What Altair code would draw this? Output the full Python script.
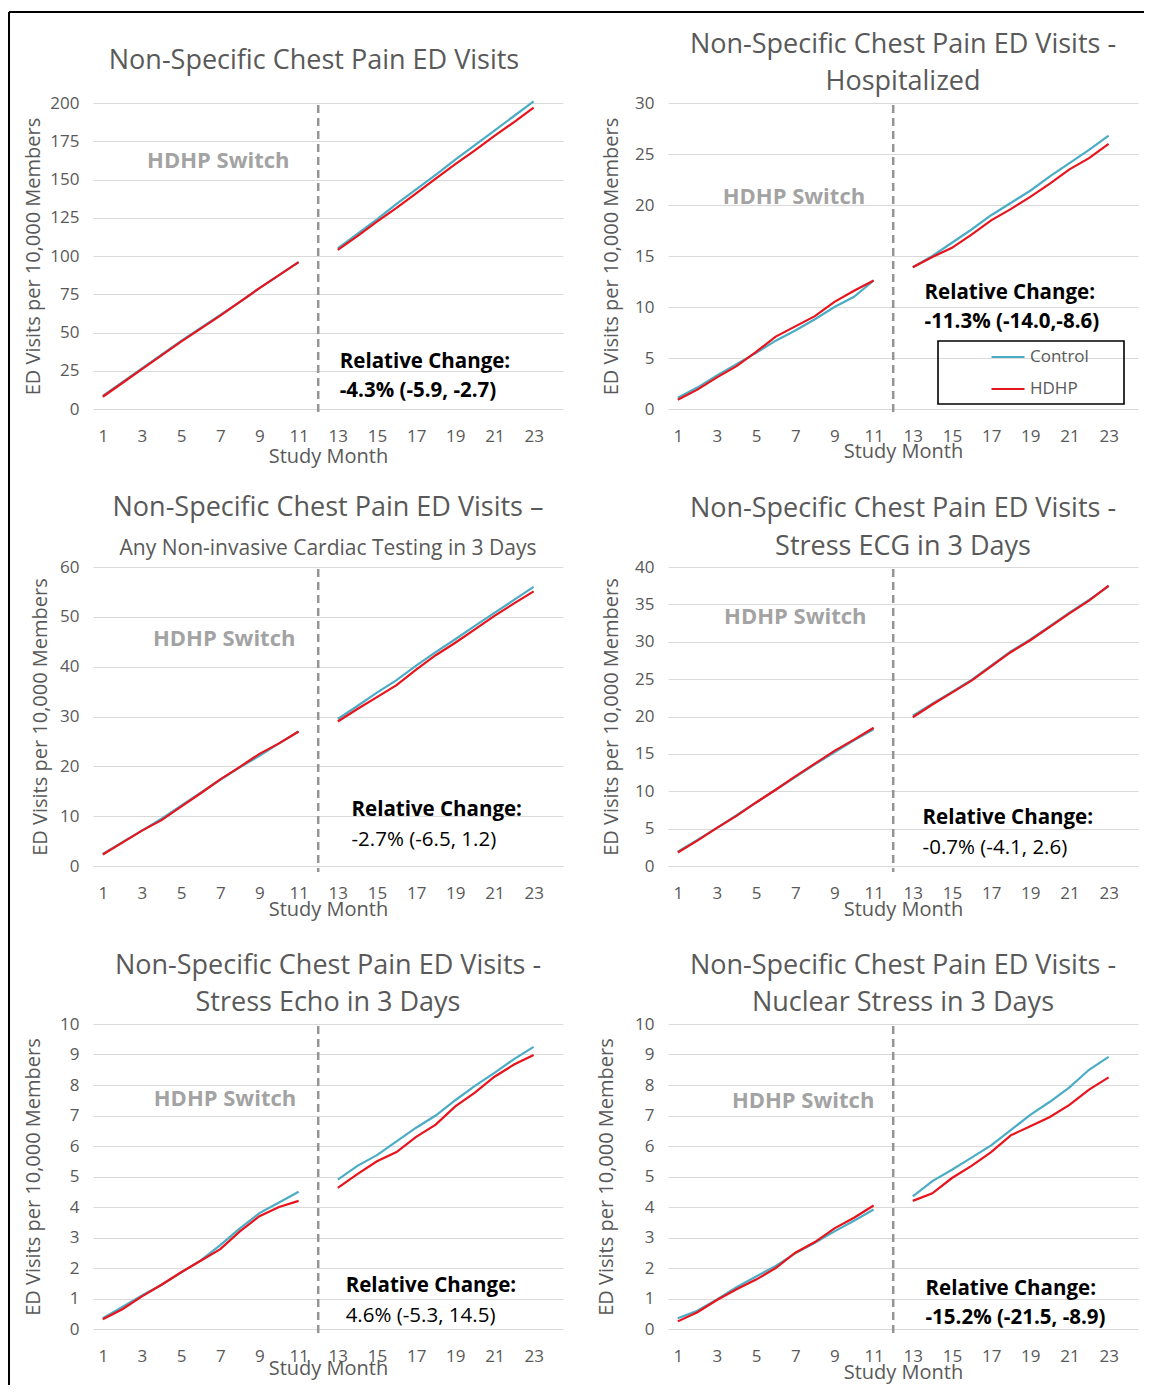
import altair as alt
import pandas as pd

# ---------------- data ----------------
months_pre = list(range(1, 12))
months_post = list(range(13, 24))
groups = ["Control", "HDHP"]

titles = [
    ("Non-Specific Chest Pain ED Visits", None),
    ("Non-Specific Chest Pain ED Visits -", "Hospitalized"),
    ("Non-Specific Chest Pain ED Visits \u2013", "Any Non-invasive Cardiac Testing in 3 Days"),
    ("Non-Specific Chest Pain ED Visits -", "Stress ECG in 3 Days"),
    ("Non-Specific Chest Pain ED Visits -", "Stress Echo in 3 Days"),
    ("Non-Specific Chest Pain ED Visits -", "Nuclear Stress in 3 Days"),
]
rel_change = [
    "-4.3% (-5.9, -2.7)",
    "-11.3% (-14.0,-8.6)",
    "-2.7% (-6.5, 1.2)",
    "-0.7% (-4.1, 2.6)",
    "4.6% (-5.3, 14.5)",
    "-15.2% (-21.5, -8.9)",
]
rel_bold = [True, True, False, False, False, True]
y_max = [200, 30, 60, 40, 10, 10]
y_step = [25, 5, 10, 5, 1, 1]

ctrl_pre = [
    [8.5, 17.5, 26.5, 35.5, 44.5, 53, 61.5, 70, 79, 87.5, 96],
    [1.1, 2.1, 3.3, 4.4, 5.5, 6.7, 7.7, 8.8, 10.0, 11.0, 12.6],
    [2.4, 4.8, 7.1, 9.5, 12.1, 14.7, 17.3, 19.8, 22.1, 24.6, 27.0],
    [1.9, 3.5, 5.1, 6.8, 8.5, 10.2, 11.9, 13.6, 15.2, 16.8, 18.3],
    [0.35, 0.72, 1.1, 1.45, 1.85, 2.25, 2.75, 3.3, 3.8, 4.15, 4.5],
    [0.35, 0.6, 0.97, 1.37, 1.72, 2.07, 2.48, 2.83, 3.2, 3.55, 3.92],
]
hdhp_pre = [
    [8, 17, 26, 35, 44, 52.5, 61, 70, 79, 87.5, 96],
    [0.9, 1.9, 3.1, 4.2, 5.6, 7.1, 8.1, 9.1, 10.5, 11.6, 12.6],
    [2.3, 4.7, 7.1, 9.2, 11.9, 14.6, 17.4, 19.9, 22.5, 24.6, 27.0],
    [1.8, 3.4, 5.1, 6.7, 8.5, 10.2, 12.0, 13.7, 15.4, 16.9, 18.5],
    [0.32, 0.65, 1.07, 1.45, 1.86, 2.24, 2.62, 3.2, 3.7, 4.0, 4.2],
    [0.25, 0.55, 0.95, 1.3, 1.62, 2.0, 2.5, 2.85, 3.3, 3.65, 4.05],
]
ctrl_post = [
    [105, 114.5, 124, 134, 143.5, 153, 163, 172.5, 182, 191.5, 201],
    [13.9, 15.0, 16.3, 17.6, 19.0, 20.2, 21.4, 22.8, 24.1, 25.4, 26.8],
    [29.5, 32.1, 34.8, 37.3, 40.2, 42.9, 45.5, 48.2, 50.8, 53.4, 56.0],
    [20.1, 21.7, 23.3, 24.9, 26.8, 28.7, 30.3, 32.1, 33.9, 35.6, 37.4],
    [4.9, 5.35, 5.7, 6.15, 6.6, 7.0, 7.5, 7.97, 8.4, 8.85, 9.25],
    [4.35, 4.85, 5.22, 5.62, 6.02, 6.52, 7.02, 7.45, 7.92, 8.5, 8.92],
]
hdhp_post = [
    [104, 113, 122.5, 131.5, 141, 150.5, 160, 169, 178.5, 187.5, 197],
    [13.9, 14.9, 15.8, 17.1, 18.5, 19.6, 20.8, 22.1, 23.5, 24.6, 26.0],
    [29.0, 31.5, 33.9, 36.3, 39.4, 42.3, 44.8, 47.5, 50.2, 52.7, 55.1],
    [19.9, 21.6, 23.2, 24.8, 26.7, 28.6, 30.2, 32.0, 33.8, 35.5, 37.5],
    [4.63, 5.08, 5.5, 5.8, 6.3, 6.7, 7.3, 7.75, 8.27, 8.67, 8.98],
    [4.2, 4.45, 4.95, 5.35, 5.8, 6.35, 6.65, 6.95, 7.35, 7.85, 8.25],
]
switch_month = 12

# annotation anchors (data units): HDHP Switch centre, Relative Change left / two line heights
switch_pos = [(6.9, 162), (6.93, 20.8), (7.2, 45.5), (7.0, 33.3), (7.24, 7.54), (7.4, 7.48)]
rc_pos = [(13.1, 31, 12), (13.6, 11.35, 8.5), (13.7, 11.2, 5.2),
          (13.5, 6.4, 2.4), (13.4, 1.41, 0.43), (13.65, 1.31, 0.36)]

# ---------------- style ----------------
FONT = "Open Sans"
GRAY = "#595959"
BLUE = "#4BACC6"
RED = "#E8141C"
W = 470
heights = [306, 306, 299, 299, 305, 305]
title_offset = [17, -1.5, -2, -2.5, -1.5, -1.5]
sub_size = [27, 27, 21, 27, 27, 27]
sub_pad = [0, 10, 16, 11, 10, 10]
xtitle_pad = [2, -3, -2, -2, -6, -2]
ytitle_x = [-60, -57, -53, -57, -60, -62]


def make_panel(i):
    rows = []
    for g, pre, post in (("Control", ctrl_pre[i], ctrl_post[i]), ("HDHP", hdhp_pre[i], hdhp_post[i])):
        for m, v in zip(months_pre, pre):
            rows.append({"month": m, "value": v, "group": g, "period": "pre"})
        for m, v in zip(months_post, post):
            rows.append({"month": m, "value": v, "group": g, "period": "post"})
    df = pd.DataFrame(rows)
    h = heights[i]

    X = alt.X("month:Q",
              scale=alt.Scale(domain=[0.5, 24.5], nice=False, zero=False),
              axis=alt.Axis(values=list(range(1, 24, 2)), title="Study Month", grid=False,
                            labelPadding=19, titlePadding=xtitle_pad[i]))
    Y = alt.Y("value:Q",
              scale=alt.Scale(domain=[0, y_max[i]], nice=False),
              axis=alt.Axis(values=list(range(0, y_max[i] + 1, y_step[i])),
                            title="ED Visits per 10,000 Members", labelPadding=14,
                            titleX=ytitle_x[i], titleBaseline="middle"))

    if i == 1:
        legend = alt.Legend(title=None, orient="none", legendX=270, legendY=233,
                            symbolType="stroke", symbolSize=1089, symbolStrokeWidth=2.2,
                            padding=3, rowPadding=6, symbolOffset=49,
                            labelOffset=4, labelFont=FONT, labelFontSize=17, labelColor=GRAY)
    else:
        legend = None

    lines = alt.Chart(df).mark_line(strokeWidth=2.2).encode(
        x=X, y=Y,
        color=alt.Color("group:N", scale=alt.Scale(domain=groups, range=[BLUE, RED]), legend=legend),
        detail="period:N",
    )
    dashed = alt.Chart(pd.DataFrame({"month": [switch_month]})).mark_rule(
        strokeDash=[8, 5], strokeWidth=2.5, color="#959595"
    ).encode(x=X, y=alt.value(2), y2=alt.value(h + 6))

    sx, sy = switch_pos[i]
    switch = alt.Chart(pd.DataFrame({"month": [sx], "value": [sy], "t": ["HDHP Switch"]})).mark_text(
        font=FONT, fontSize=22, fontWeight="bold", color="#a3a3a3", align="center", baseline="middle"
    ).encode(x=X, y=Y, text="t:N")

    rx, ry1, ry2 = rc_pos[i]
    rc1 = alt.Chart(pd.DataFrame({"month": [rx], "value": [ry1], "t": ["Relative Change:"]})).mark_text(
        font=FONT, fontSize=20.5, fontWeight="bold", color="black", align="left", baseline="middle"
    ).encode(x=X, y=Y, text="t:N")
    rc2 = alt.Chart(pd.DataFrame({"month": [rx], "value": [ry2], "t": [rel_change[i]]})).mark_text(
        font=FONT, fontSize=20.5, fontWeight="bold" if rel_bold[i] else "normal", color="black",
        align="left", baseline="middle"
    ).encode(x=X, y=Y, text="t:N")

    layers = [lines, dashed, switch, rc1, rc2]
    one = pd.DataFrame({"k": [0]})

    if i == 1:
        # legend border box
        box = alt.Chart(one).mark_rect(fillOpacity=0, stroke="black", strokeWidth=1.6).encode(
            x=alt.value(270), x2=alt.value(456), y=alt.value(238), y2=alt.value(301))
        layers.append(box)

    t1, t2 = titles[i]
    if i == 0:
        # outer frame of the figure + title as text
        left = alt.Chart(one).mark_rule(color="black", strokeWidth=2).encode(
            x=alt.value(-84), y=alt.value(-91), y2=alt.value(1282))
        top = alt.Chart(one).mark_rule(color="black", strokeWidth=2).encode(
            x=alt.value(-84), x2=alt.value(1051), y=alt.value(-91))
        ttl = alt.Chart(one).mark_text(
            text=t1, font=FONT, fontSize=27, color=GRAY, align="center", baseline="middle"
        ).encode(x=alt.value(221), y=alt.value(-42))
        layers += [left, top, ttl]
        return alt.layer(*layers).properties(width=W, height=h)

    tp = dict(text=t1, font=FONT, fontSize=27, fontWeight="normal", color=GRAY,
              anchor="middle", offset=title_offset[i], frame="group",
              subtitle=t2, subtitleFont=FONT, subtitleFontSize=sub_size[i],
              subtitleColor=GRAY, subtitlePadding=sub_pad[i])
    return alt.layer(*layers).properties(width=W, height=h, title=alt.TitleParams(**tp))


panels = [make_panel(i) for i in range(6)]

chart = alt.concat(*panels, columns=2, spacing={"row": 158, "column": 105}, bounds="flush").resolve_scale(
    color="independent"
).properties(
    padding={"left": 0, "top": 3, "right": 0, "bottom": 0}
).configure_view(stroke=None).configure_axis(
    labelFont=FONT, labelFontSize=17, labelColor=GRAY,
    titleFont=FONT, titleFontSize=20, titleColor=GRAY, titleFontWeight="normal",
    domain=False, ticks=False, gridColor="#d9d9d9", gridWidth=1,
)

chart.save("out.html", embed_options={"renderer": "svg", "actions": False})
